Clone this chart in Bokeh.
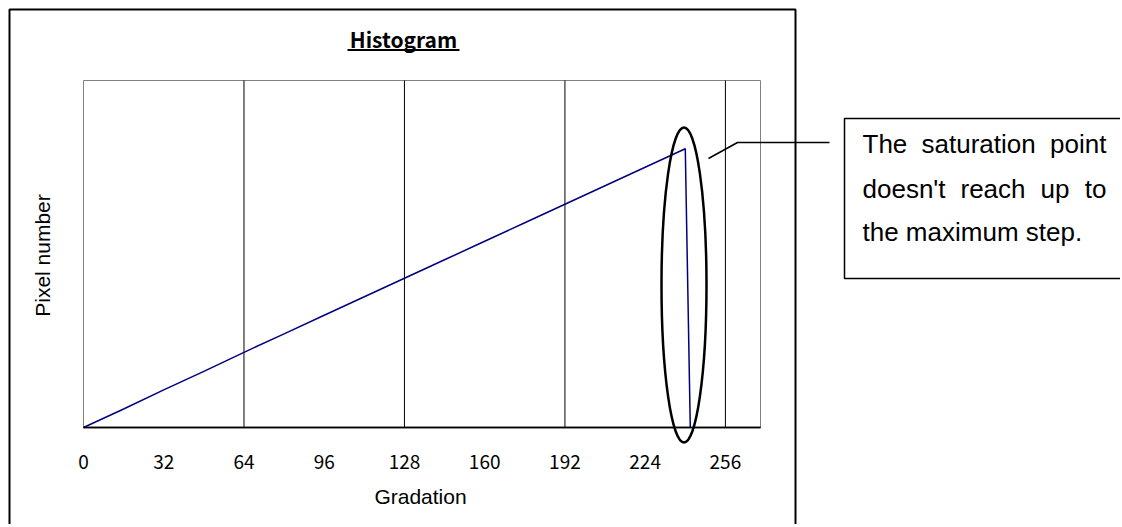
import numpy as np
from bokeh.plotting import figure
from bokeh.models import Label, LinearAxis, FixedTicker
from bokeh.embed import file_html
from bokeh.resources import INLINE

# ---------------- data ----------------
gradation = [0, 16, 32, 48, 64, 80, 96, 112, 128, 144, 160, 176, 192, 208, 224, 240, 242]
pixel_count = [0, 16, 32.5, 48.5, 65, 81, 97, 113, 129, 145, 161, 177, 193, 209, 225, 241, 0]
x_ticks = [0, 32, 64, 96, 128, 160, 192, 224, 256]
grid_ticks = [64, 128, 192, 256]
title_text = "Histogram"
x_label = "Gradation"
y_label = "Pixel number"
note_lines = [["The", "saturation", "point"],
              ["doesn't", "reach", "up", "to"],
              ["the maximum step."]]

# ---------------- layout (canvas px) ----------------
W, H = 1120, 524
PL, PT, PR, PB = 83, 80, 760, 427      # plot area in canvas px
X0, X1, Y0, Y1 = 0, 270, 0, 300        # plot-area value ranges
SX = (PR - PL) / (X1 - X0)
SY = (PB - PT) / (Y1 - Y0)

def dx(px):
    return X0 + (px - PL) / SX

def dy(py):
    return Y0 + (PB - py) / SY

p = figure(width=W, height=H, output_backend="svg", toolbar_location=None,
           x_range=(dx(0), dx(W)), y_range=(dy(H), dy(0)),
           x_axis_location=None, y_axis_location=None, title=None,
           min_border=0, min_border_left=0, min_border_right=0,
           min_border_top=0, min_border_bottom=0,
           background_fill_color="white", border_fill_color="white")
p.outline_line_color = None
p.xgrid.visible = False
p.ygrid.visible = False

# x axis drawn at y = 0
ax = LinearAxis(fixed_location=Y0, bounds=(X0, X1))
ax.ticker = FixedTicker(ticks=x_ticks)
ax.axis_line_color = "black"
ax.axis_line_width = 1.5
ax.major_tick_out = 0
ax.major_tick_in = 0
ax.minor_tick_out = 0
ax.minor_tick_in = 0
ax.major_label_standoff = 27
ax.major_label_text_font = "Noto Sans CJK JP"
ax.major_label_text_font_size = "19px"
ax.major_label_text_color = "black"
p.add_layout(ax, "below")

# plot area border (gray) and vertical grid lines
p.quad(left=[X0], right=[X1], bottom=[Y0], top=[Y1], fill_color=None,
       line_color="#808080", line_width=1)
p.segment(x0=grid_ticks, y0=[Y0] * len(grid_ticks), x1=grid_ticks, y1=[Y1] * len(grid_ticks),
          line_color="black", line_width=1)
p.segment(x0=[X0], y0=[Y0], x1=[X1], y1=[Y0], line_color="black", line_width=1.5)

# data line
p.line(gradation, pixel_count, line_color="#000080", line_width=1.5)

# title with underline
p.add_layout(Label(x=dx(403), y=dy(38), text=title_text, text_align="center",
                   text_baseline="middle", text_font="Noto Sans CJK JP",
                   text_font_style="bold", text_font_size="21px", text_color="black"))
p.line([dx(347), dx(459)], [dy(49.5), dy(49.5)], line_color="black", line_width=2)

# axis labels
p.add_layout(Label(x=dx(420), y=dy(496), text=x_label, text_align="center",
                   text_baseline="middle", text_font="Liberation Sans",
                   text_font_size="21px", text_color="black"))
p.add_layout(Label(x=dx(42), y=dy(255), text=y_label, text_align="center", angle=np.pi / 2,
                   text_baseline="middle", text_font="Liberation Sans",
                   text_font_size="21px", text_color="black"))

# outer chart border
p.quad(left=[dx(9)], right=[dx(795)], top=[dy(9)], bottom=[dy(560)],
       fill_color=None, line_color="black", line_width=2)

# ellipse highlight
p.ellipse(x=[dx(683.5)], y=[dy(284.5)], width=[45 / SX], height=[315 / SY],
          fill_color=None, line_color="black", line_width=2.5)

# callout leader
p.line([dx(708), dx(737), dx(829)], [dy(158), dy(142), dy(142)],
       line_color="black", line_width=1.5)

# callout box
p.quad(left=[dx(844)], right=[dx(1160)], top=[dy(118)], bottom=[dy(278)],
       fill_color=None, line_color="black", line_width=1.5)

# callout text (justified by word)
word_pos = [[(862, "left"), (921, "left"), (1106, "right")],
            [(862, "left"), (960, "left"), (1040, "left"), (1106, "right")],
            [(862, "left")]]
mids = [143, 188.5, 231.5]
for words, pos, my in zip(note_lines, word_pos, mids):
    for w, (px, al) in zip(words, pos):
        p.add_layout(Label(x=dx(px), y=dy(my), text=w, text_align=al,
                           text_baseline="middle", text_font="Liberation Sans",
                           text_font_size="26px", text_color="black"))

open("out.html", "w").write(file_html(p, INLINE))
